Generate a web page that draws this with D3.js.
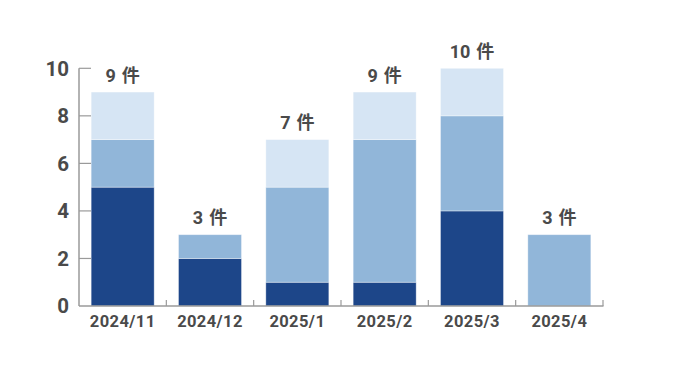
<!DOCTYPE html>
<html><head><meta charset="utf-8">
<script src="https://cdn.jsdelivr.net/npm/d3@7"></script>
<style>
html,body{margin:0;padding:0;background:#fff;}
text{font-family:Roboto,"Noto Sans CJK JP",sans-serif;font-weight:700;fill:#4a4a4a;}
</style></head>
<body>
<svg id="chart" width="687" height="382"></svg>
<script>
const categories = ["2024/11","2024/12","2025/1","2025/2","2025/3","2025/4"];
const seriesDark  = [5,2,1,1,4,0];
const seriesMid   = [2,1,4,6,4,3];
const seriesLight = [2,0,2,2,2,0];
const yTicks = [0,2,4,6,8,10];
const unitLabel = "件";

const colors = ["#1d4689","#91b6d9","#d6e5f4"];
const keys = ["dark","mid","light"];
const rows = categories.map((c,i)=>({cat:c, dark:seriesDark[i], mid:seriesMid[i], light:seriesLight[i]}));
const totals = rows.map(r=>r.dark+r.mid+r.light);

const svg = d3.select("#chart");
const x = d3.scaleBand().domain(categories).range([79,603]).paddingInner(0.2786).paddingOuter(0.1393);
const y = d3.scaleLinear().domain([0,10]).range([306,68.3]);

const stack = d3.stack().keys(keys)(rows);
svg.append("g").selectAll("g").data(stack).join("g")
  .attr("fill",(d,i)=>colors[i])
  .selectAll("rect").data(d=>d.filter(s=>s[1]-s[0]>0)).join("rect")
  .attr("x",d=>x(d.data.cat))
  .attr("width",x.bandwidth())
  .attr("y",d=>y(d[1]))
  .attr("height",d=>y(d[0])-y(d[1]))
  .attr("stroke","rgba(255,255,255,0.45)")
  .attr("stroke-width",0.8);

// y axis
const axisColor = "#9a9a9a";
const ya = svg.append("g");
ya.append("line").attr("x1",79).attr("x2",79).attr("y1",y(10)).attr("y2",y(0)).attr("stroke",axisColor).attr("stroke-width",1.5);
ya.selectAll("line.t").data(yTicks.filter(t=>t>0)).join("line").attr("class","t")
  .attr("x1",79).attr("x2",91).attr("y1",d=>y(d)).attr("y2",d=>y(d))
  .attr("stroke",axisColor).attr("stroke-width",1.2);
ya.selectAll("text").data(yTicks).join("text")
  .attr("x",69).attr("y",d=>y(d)).attr("dy","0.36em").attr("text-anchor","end")
  .attr("font-size",20.5).text(d=>d);

// x axis
const xa = svg.append("g");
xa.append("line").attr("x1",79).attr("x2",603.5).attr("y1",306).attr("y2",306).attr("stroke",axisColor).attr("stroke-width",1.5);
const bounds = categories.map(c=>x(c)+x.bandwidth()+x.step()*x.paddingInner()/2);
xa.selectAll("line.t").data(bounds).join("line").attr("class","t")
  .attr("x1",d=>d).attr("x2",d=>d).attr("y1",300).attr("y2",306)
  .attr("stroke",axisColor).attr("stroke-width",1.2);
xa.selectAll("text").data(categories).join("text")
  .attr("x",d=>x(d)+x.bandwidth()/2).attr("y",327).attr("text-anchor","middle")
  .attr("font-size",16.5).attr("letter-spacing",0.4).text(d=>d);

// totals
const tl = svg.append("g").selectAll("text").data(rows).join("text")
  .attr("x",(d,i)=>x(d.cat)+x.bandwidth()/2)
  .attr("y",(d,i)=>y(totals[i])-10.5)
  .attr("text-anchor","middle").attr("font-size",18);
tl.append("tspan").text((d,i)=>totals[i]);
tl.append("tspan").attr("dx",6).text(unitLabel);
</script>
</body></html>
